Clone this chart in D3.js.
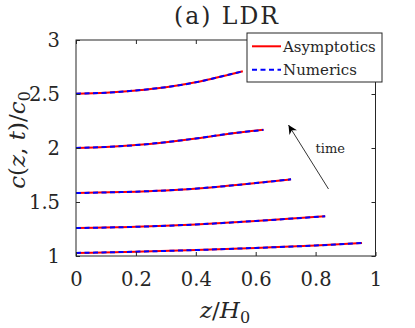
<!DOCTYPE html>
<html>
<head>
<meta charset="utf-8">
<script src="https://cdn.jsdelivr.net/npm/d3@7"></script>
<style>
  html, body { margin: 0; padding: 0; background: #fff; }
  svg { display: block; }
  text { font-family: "DejaVu Serif", serif; fill: #262626; }
</style>
</head>
<body>
<div class="chart"></div>
<script>
// profiles, oldest (bottom) to newest (top)
const profileZ = [
  [0, 0.2, 0.4, 0.6, 0.8, 0.955],
  [0, 0.2, 0.4, 0.6, 0.832],
  [0, 0.15, 0.3, 0.45, 0.6, 0.718],
  [0, 0.1, 0.2, 0.3, 0.4, 0.5, 0.626],
  [0, 0.1, 0.2, 0.3, 0.4, 0.5, 0.557]
];
const profileC = [
  [1.028, 1.040, 1.055, 1.075, 1.097, 1.120],
  [1.259, 1.270, 1.292, 1.324, 1.368],
  [1.583, 1.592, 1.607, 1.635, 1.675, 1.710],
  [2.000, 2.010, 2.027, 2.054, 2.088, 2.128, 2.168],
  [2.503, 2.512, 2.533, 2.563, 2.608, 2.672, 2.710]
];
const xTicks = [0, 0.2, 0.4, 0.6, 0.8, 1];
const yTicks = [1, 1.5, 2, 2.5, 3];
const seriesNames = ['Asymptotics', 'Numerics'];

const W = 415, H = 328;
const axisColor = '#262626';

const svg = d3.select('.chart').append('svg')
  .attr('width', W).attr('height', H);

const x = d3.scaleLinear().domain([0, 1]).range([76, 375.5]);
const y = d3.scaleLinear().domain([1, 3]).range([256, 40]);

// 資料線
const line = d3.line()
  .x(d => x(d[0]))
  .y(d => y(d[1]))
  .curve(d3.curveMonotoneX);

const profiles = profileZ.map((zs, i) => zs.map((z, j) => [z, profileC[i][j]]));

svg.selectAll('.asym').data(profiles).join('path')
  .attr('class', 'asym')
  .attr('d', line)
  .attr('fill', 'none')
  .attr('stroke', '#ff0000')
  .attr('stroke-width', 2);

svg.selectAll('.num').data(profiles).join('path')
  .attr('class', 'num')
  .attr('d', line)
  .attr('fill', 'none')
  .attr('stroke', '#0000ff')
  .attr('stroke-width', 2)
  .attr('stroke-dasharray', '5,3.5');

// axes (ticks inside, box on)
function styleAxis(g) {
  g.select('.domain').remove();
  g.selectAll('line').attr('stroke', axisColor);
  g.selectAll('text').attr('fill', axisColor)
    .style('font-family', '"DejaVu Serif", serif')
    .style('font-size', '19.5px');
}

svg.append('g')
  .attr('transform', `translate(0,${y(1)})`)
  .call(d3.axisBottom(x).tickValues(xTicks).tickSize(-4).tickPadding(16)
    .tickFormat(d3.format('')))
  .call(styleAxis);

svg.append('g')
  .attr('transform', `translate(0,${y(3)})`)
  .call(d3.axisTop(x).tickValues(xTicks).tickSize(-4).tickFormat(''))
  .call(styleAxis);

svg.append('g')
  .attr('transform', `translate(${x(0)},0)`)
  .call(d3.axisLeft(y).tickValues(yTicks).tickSize(-4).tickPadding(16)
    .tickFormat(d3.format('')))
  .call(styleAxis);

svg.append('g')
  .attr('transform', `translate(${x(1)},0)`)
  .call(d3.axisRight(y).tickValues(yTicks).tickSize(-4).tickFormat(''))
  .call(styleAxis);

svg.append('rect')
  .attr('x', x(0)).attr('y', y(3))
  .attr('width', x(1) - x(0)).attr('height', y(1) - y(3))
  .attr('fill', 'none')
  .attr('stroke', axisColor)
  .attr('stroke-width', 1);

// title
svg.append('text')
  .attr('x', 226).attr('y', 24)
  .attr('text-anchor', 'middle')
  .attr('textLength', 104)
  .style('font-size', '23.5px')
  .text('(a) LDR');

// axis labels
svg.append('text')
  .attr('x', 225).attr('y', 318)
  .attr('text-anchor', 'middle')
  .style('font-size', '23px')
  .html('<tspan font-style="italic">z</tspan>/<tspan font-style="italic">H</tspan><tspan dy="5" font-size="16px">0</tspan>');

svg.append('text')
  .attr('transform', 'translate(25,140) rotate(-90)')
  .attr('text-anchor', 'middle')
  .style('font-size', '23px')
  .html('<tspan font-style="italic">c</tspan>(<tspan font-style="italic">z</tspan>, <tspan font-style="italic">t</tspan>)/<tspan font-style="italic">c</tspan><tspan dy="5" font-size="16px">0</tspan>');

// time arrow
svg.append('defs').append('marker')
  .attr('id', 'head')
  .attr('viewBox', '0 0 10 10')
  .attr('refX', 10).attr('refY', 5)
  .attr('markerWidth', 10).attr('markerHeight', 9)
  .attr('markerUnits', 'userSpaceOnUse')
  .attr('orient', 'auto')
  .append('path')
  .attr('d', 'M0,0 L10,5 L0,10 L3,5 Z')
  .attr('fill', '#000');

svg.append('line')
  .attr('x1', 328.5).attr('y1', 189)
  .attr('x2', 288.5).attr('y2', 125)
  .attr('stroke', '#000')
  .attr('stroke-width', 0.8)
  .attr('marker-end', 'url(#head)');

svg.append('text')
  .attr('x', 315.5).attr('y', 152.5)
  .style('font-size', '13px')
  .attr('fill', '#000')
  .text('time');

// legend
const legend = svg.append('g');
legend.append('rect')
  .attr('x', 247).attr('y', 33)
  .attr('width', 135).attr('height', 49)
  .attr('fill', '#fff')
  .attr('stroke', axisColor)
  .attr('stroke-width', 1);

const legendColors = ['#ff0000', '#0000ff'];
const legendDash = [null, '5,3.5'];
seriesNames.forEach((name, i) => {
  const ly = 46.3 + i * 23.4;
  legend.append('line')
    .attr('x1', 252).attr('x2', 281)
    .attr('y1', ly).attr('y2', ly)
    .attr('stroke', legendColors[i])
    .attr('stroke-width', 2)
    .attr('stroke-dasharray', legendDash[i]);
  legend.append('text')
    .attr('x', 283).attr('y', ly + 5.5)
    .style('font-size', '15px')
    .attr('fill', '#000')
    .text(name);
});
</script>
</body>
</html>
